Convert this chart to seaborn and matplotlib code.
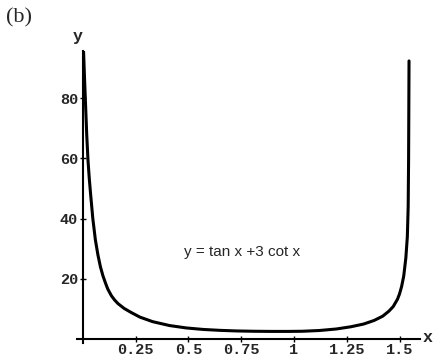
import matplotlib
matplotlib.use("Agg")
import matplotlib.pyplot as plt
import seaborn as sns
import pandas as pd

# Points
x_vals = [0.003, 0.008, 0.013, 0.018, 0.024, 0.030, 0.036, 0.047, 0.059, 0.071, 0.083,
          0.095, 0.107, 0.118, 0.135, 0.150, 0.166, 0.195, 0.227, 0.27, 0.33, 0.41,
          0.49, 0.57, 0.65, 0.73, 0.81, 0.89, 0.97, 1.04, 1.12, 1.20, 1.27, 1.33,
          1.38, 1.42, 1.45, 1.47, 1.49, 1.50, 1.51, 1.52, 1.53, 1.537, 1.541, 1.543,
          1.544, 1.545]
y_vals = [95.7, 86.0, 77.0, 68.0, 59.5, 53.5, 48.5, 40.0, 33.0, 28.0, 24.0,
          21.0, 18.6, 16.6, 14.4, 13.0, 11.8, 10.2, 8.9, 7.3, 5.8, 4.5,
          3.7, 3.2, 2.9, 2.7, 2.6, 2.55, 2.55, 2.6, 2.85, 3.35, 4.1, 5.0,
          6.2, 7.6, 9.3, 10.8, 13.2, 15.0, 17.5, 21.0, 27.0, 34.0, 44.0, 60.0,
          76.0, 92.4]

x_ticks = [0.25, 0.5, 0.75, 1, 1.25, 1.5]
x_tick_labels = ["0.25", "0.5", "0.75", "1", "1.25", "1.5"]
y_ticks = [20, 40, 60, 80]
y_tick_labels = ["20", "40", "60", "80"]

df = pd.DataFrame({"x": x_vals, "y": y_vals})

sns.set_style("white")
W, H = 434, 358
fig = plt.figure(figsize=(W / 100, H / 100), dpi=100)
left_px, right_px, top_px, bot_px = 77, 420, 51, 343
ax = fig.add_axes([left_px / W, (H - bot_px) / H, (right_px - left_px) / W, (bot_px - top_px) / H])
ax.set_facecolor("white")

sns.lineplot(data=df, x="x", y="y", sort=False, estimator=None, color="black",
             linewidth=2.2, ax=ax)

ax.set_xlim(-0.028, 1.597)
ax.set_ylim(-1.3, 95.7)

for side in ["top", "right"]:
    ax.spines[side].set_visible(False)
ax.spines["left"].set_position(("data", 0))
ax.spines["bottom"].set_position(("data", 0))
for side in ["left", "bottom"]:
    ax.spines[side].set_linewidth(1.5)
    ax.spines[side].set_color("black")

tick_font = dict(family="Liberation Mono", weight="bold", size=11)
ax.set_xticks(x_ticks)
ax.set_xticklabels(x_tick_labels, fontdict=tick_font)
ax.set_yticks(y_ticks)
ax.set_yticklabels(y_tick_labels, fontdict=tick_font)
ax.tick_params(axis="both", direction="inout", length=5, width=1, color="black",
               bottom=True, left=True, pad=1)
ax.tick_params(axis="x", pad=0)
ax.set_xlabel("")
ax.set_ylabel("")
ax.grid(False)

fig.text(78 / W, 1 - 37 / H, "y", ha="center", va="center",
         family="Liberation Mono", weight="bold", fontsize=12)
fig.text(428 / W, 1 - 338 / H, "x", ha="center", va="center",
         family="Liberation Mono", weight="bold", fontsize=12)
fig.text(6 / W, 1 - 18 / H, "(b)", ha="left", va="center",
         family="Liberation Serif", fontsize=16)
fig.text(242 / W, 1 - 252 / H, "y = tan x +3 cot x", ha="center", va="center",
         family="Liberation Sans", fontsize=11)

fig.savefig("out.png", dpi=100, facecolor="white")
